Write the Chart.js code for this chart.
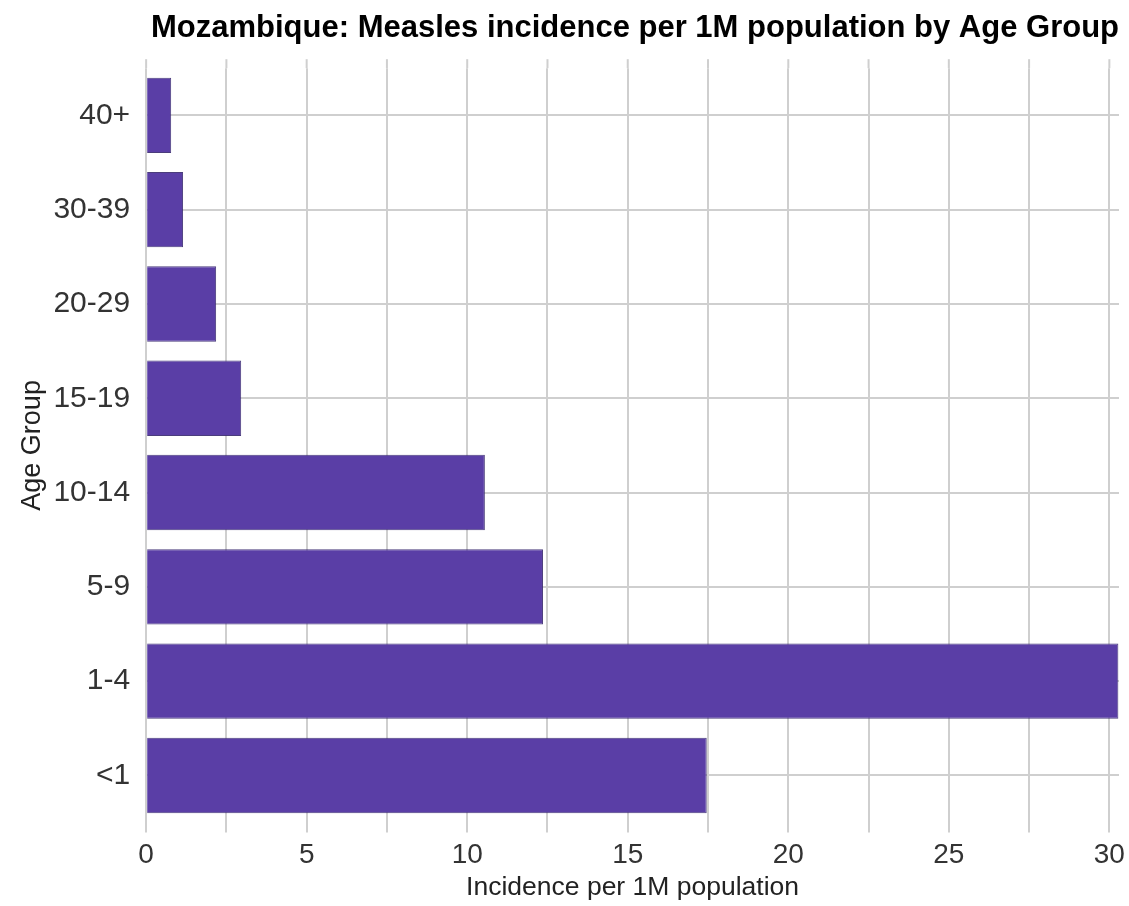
<!DOCTYPE html>
<html>
<head>
<meta charset="utf-8">
<script src="https://cdn.jsdelivr.net/npm/chart.js@4"></script>
<style>
  body { margin: 0; background: #fff; }
  #chart { display: block; }
</style>
</head>
<body>
<canvas id="chart" width="1129" height="906"></canvas>
<script>
// Age groups, top to bottom
const ageGroups = ['40+', '30-39', '20-29', '15-19', '10-14', '5-9', '1-4', '<1'];
// Incidence per 1M population
const incidence = [0.78, 1.15, 2.18, 2.96, 10.55, 12.36, 30.28, 17.46];
// Labelled ticks on the x axis
const xTickLabels = [0, 5, 10, 15, 20, 25, 30];

const titleText = 'Mozambique: Measles incidence per 1M population by Age Group';
const barColor = '#5a3ea6';
const gridColor = '#cfcfcf';

// Vertical grid lines stick out a little above the plot area
const gridTopExtend = {
    id: 'gridTopExtend',
    beforeDatasetsDraw(chart) {
        const x = chart.scales.x;
        const top = chart.chartArea.top;
        const ctx = chart.ctx;
        ctx.save();
        ctx.strokeStyle = gridColor;
        ctx.lineWidth = 2;
        x.ticks.forEach(t => {
            const px = x.getPixelForValue(t.value);
            ctx.beginPath();
            ctx.moveTo(px, top - 9);
            ctx.lineTo(px, top);
            ctx.stroke();
        });
        ctx.restore();
    }
};

new Chart(document.getElementById('chart').getContext('2d'), {
    type: 'bar',
    data: {
        labels: ageGroups,
        datasets: [{
            data: incidence,
            backgroundColor: barColor,
            borderColor: 'rgba(55, 40, 110, 0.9)',
            borderWidth: 1,
            barPercentage: 0.8,
            categoryPercentage: 1.0
        }]
    },
    options: {
        indexAxis: 'y',
        responsive: false,
        animation: false,
        layout: { padding: { top: 6, right: 10, left: 16, bottom: 2 } },
        plugins: {
            legend: { display: false },
            tooltip: { enabled: false },
            title: {
                display: true,
                text: titleText,
                align: 'end',
                color: '#000',
                font: { family: 'Liberation Sans, Arial', size: 31, weight: 'bold' },
                padding: { top: 4, bottom: 21 }
            }
        },
        scales: {
            x: {
                type: 'linear',
                min: 0,
                max: 30.3,
                border: { display: false },
                grid: { color: gridColor, lineWidth: 2, tickLength: 10 },
                // let the last tick label hang past the plot edge
                afterFit: scale => { scale.paddingRight = 0; },
                ticks: {
                    stepSize: 2.5,
                    includeBounds: false,
                    autoSkip: false,
                    maxRotation: 0,
                    color: '#333',
                    padding: 6,
                    font: { family: 'Liberation Sans, Arial', size: 28 },
                    callback: v => xTickLabels.includes(v) ? String(v) : ''
                },
                title: {
                    display: true,
                    text: 'Incidence per 1M population',
                    color: '#222',
                    font: { family: 'Liberation Sans, Arial', size: 26.5 },
                    padding: { top: -6, bottom: 0 }
                }
            },
            y: {
                border: { display: false },
                grid: { color: gridColor, lineWidth: 2, offset: false, drawTicks: false },
                ticks: {
                    color: '#333',
                    padding: 16,
                    font: { family: 'Liberation Sans, Arial', size: 30 }
                },
                title: {
                    display: true,
                    text: 'Age Group',
                    color: '#222',
                    font: { family: 'Liberation Sans, Arial', size: 27 },
                    padding: { top: 0, bottom: -11 }
                }
            }
        }
    },
    plugins: [gridTopExtend]
});
</script>
</body>
</html>
